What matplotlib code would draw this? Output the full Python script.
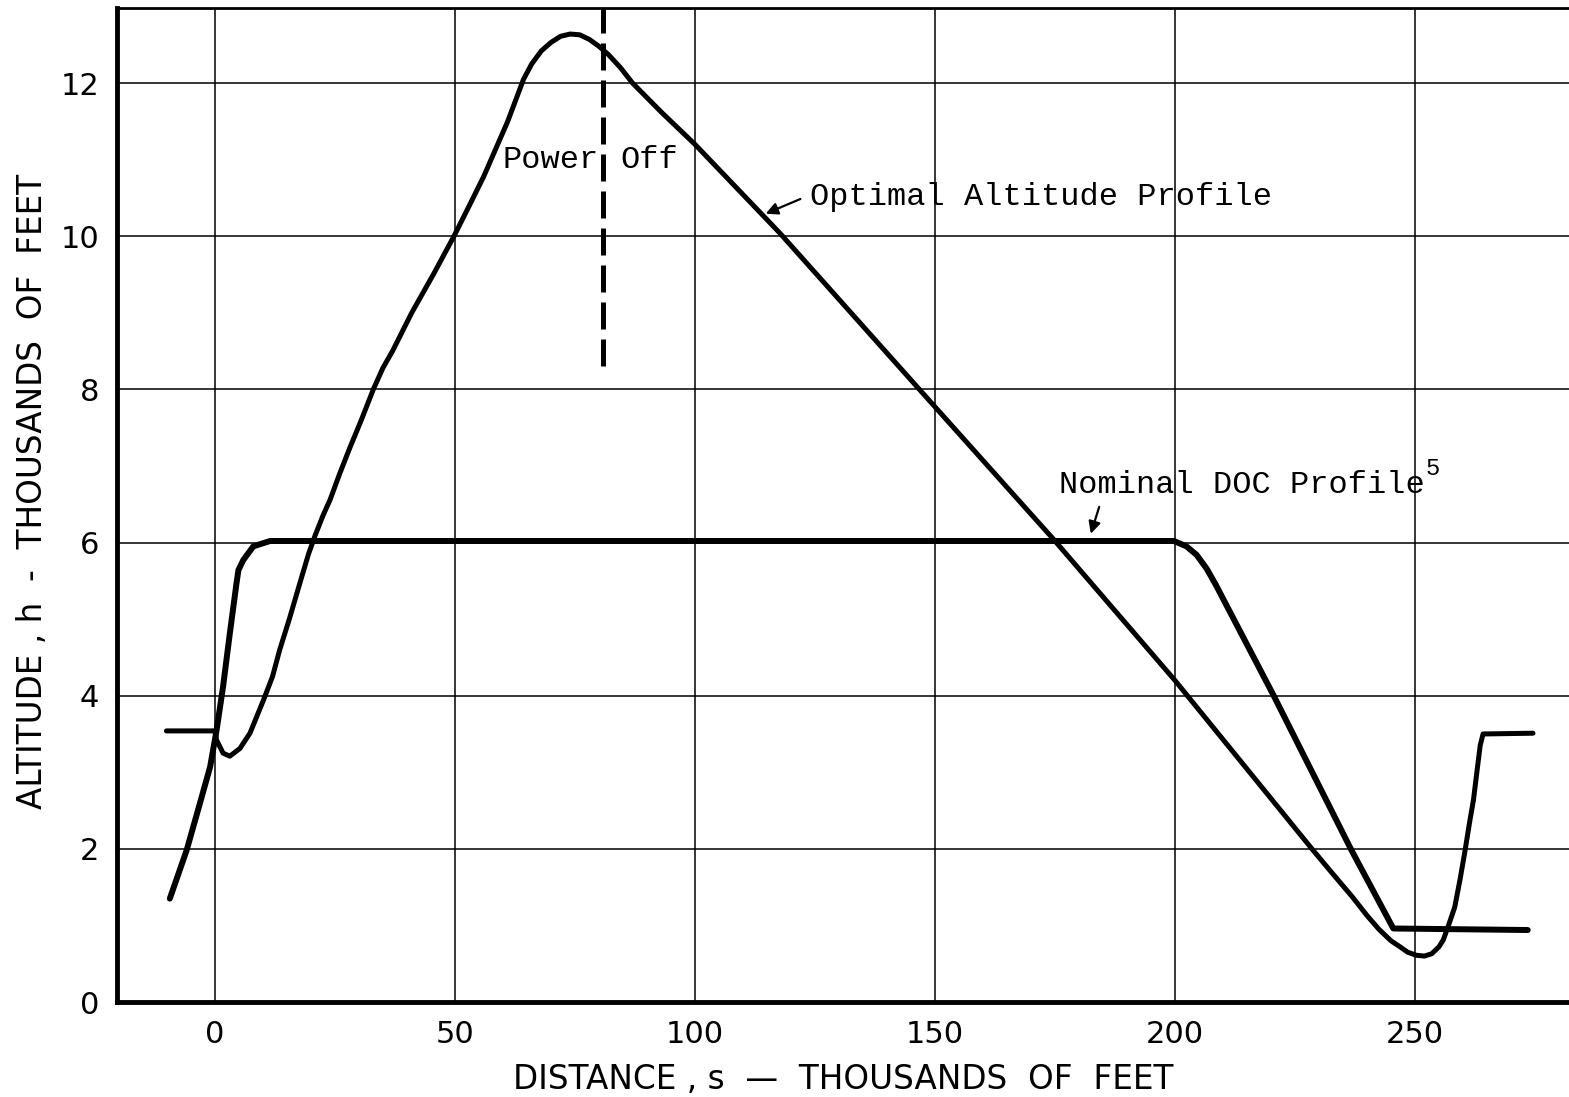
import matplotlib
matplotlib.use("Agg")
import matplotlib.pyplot as plt

# Optimal altitude profile (thousands of feet)
opt_s = [-10.1, 0.0, 0.35, 1.7, 3.1, 5.2, 7.3, 10.1, 12.0, 13.5, 15.5, 17.7, 19.5,
         20.8, 22.5, 24.0, 26.0, 28.0, 30.5, 33.0, 35.0, 37.0, 41.0, 45.5, 49.8,
         53.0, 56.0, 61.0, 64.3, 66.0, 68.0, 70.0, 72.0, 74.0, 76.0, 78.0, 80.0,
         82.0, 84.5, 87.0, 93.0, 100.0, 117.7, 146.9, 174.6, 200.0, 228.8, 232.0,
         237.0, 240.0, 242.5, 245.0, 246.9, 248.5, 250.3, 252.0, 253.5, 255.0, 255.9,
         257.0, 258.3, 259.4, 260.4, 261.4, 262.2, 263.0, 263.6, 264.2, 274.6]
opt_h = [3.54, 3.54, 3.42, 3.25, 3.21, 3.31, 3.51, 3.94, 4.25, 4.60, 5.00, 5.47, 5.85,
         6.08, 6.35, 6.56, 6.90, 7.22, 7.60, 8.00, 8.28, 8.50, 9.00, 9.50, 10.00,
         10.40, 10.78, 11.50, 12.05, 12.25, 12.42, 12.53, 12.61, 12.64, 12.63, 12.57, 12.48,
         12.37, 12.20, 12.00, 11.62, 11.20, 10.04, 7.99, 6.05, 4.20, 1.98, 1.74,
         1.37, 1.13, 0.95, 0.80, 0.72, 0.65, 0.61, 0.60, 0.63, 0.72, 0.81,
         1.00, 1.24, 1.60, 1.96, 2.35, 2.64, 3.05, 3.35, 3.50, 3.51]

# Nominal DOC profile
doc_s = [-9.4, -5.9, -3.1, -1.0, 0.35, 1.7, 3.1, 4.5, 4.9, 5.9, 8.0, 11.5,
         199.8, 202.4, 204.5, 206.6, 208.5, 220.5, 236.8, 245.5, 273.5]
doc_h = [1.35, 1.98, 2.60, 3.07, 3.55, 4.12, 4.81, 5.47, 5.64, 5.77, 5.95, 6.02,
         6.02, 5.95, 5.84, 5.66, 5.45, 4.01, 1.98, 0.96, 0.94]

# power-off marker
power_off_s = [80.8, 80.8]
power_off_h = [8.3, 13.0]

xticks = [0, 50, 100, 150, 200, 250]
yticks = [0, 2, 4, 6, 8, 10, 12]

fig = plt.figure(figsize=(15.69, 10.97), dpi=100)
ax = fig.add_axes([117/1569, 95/1097, 1452/1569, 994/1097])

ax.plot(opt_s, opt_h, color="black", lw=3.6, solid_capstyle="round", solid_joinstyle="round")
ax.plot(doc_s, doc_h, color="black", lw=4.3, solid_capstyle="round", solid_joinstyle="round")
ax.plot(power_off_s, power_off_h, color="black", lw=3.6, dashes=(5.4, 2.0))

ax.set_xlim(-20.4, 282.1)
ax.set_ylim(0, 12.98)
ax.set_xticks(xticks)
ax.set_yticks(yticks)
ax.tick_params(length=0, labelsize=22, pad=13)
ax.grid(True, color="black", lw=1.1)
ax.set_axisbelow(True)

for side in ["left", "bottom"]:
    ax.spines[side].set_linewidth(3.5)
ax.spines["top"].set_linewidth(2.0)
ax.spines["right"].set_visible(False)

ax.set_xlabel("DISTANCE , s  \u2014  THOUSANDS  OF  FEET", fontsize=23.5, labelpad=10)
ax.set_ylabel("ALTITUDE , h  -  THOUSANDS  OF  FEET", fontsize=23.5, labelpad=8)
ax.yaxis.set_label_coords(-0.0465, 0.514)

mono = "Liberation Mono"
ax.text(60.0, 11.0, "Power", fontsize=23, family=mono, va="center", ha="left")
ax.text(84.4, 11.0, "Off", fontsize=23, family=mono, va="center", ha="left")
ax.text(124.0, 10.51, "Optimal Altitude Profile", fontsize=23, family=mono, va="center", ha="left")
ax.text(175.8, 6.75, "Nominal DOC Profile", fontsize=23, family=mono, va="center", ha="left")
ax.text(252.3, 6.97, "5", fontsize=17, family=mono, va="center", ha="left")

ax.annotate("", xy=(114.2, 10.28), xytext=(122.5, 10.5),
            arrowprops=dict(arrowstyle="-|>", color="black", lw=1.6, mutation_scale=18))
ax.annotate("", xy=(182.3, 6.08), xytext=(184.4, 6.5),
            arrowprops=dict(arrowstyle="-|>", color="black", lw=1.6, mutation_scale=18))

fig.savefig("out.png", dpi=100)
